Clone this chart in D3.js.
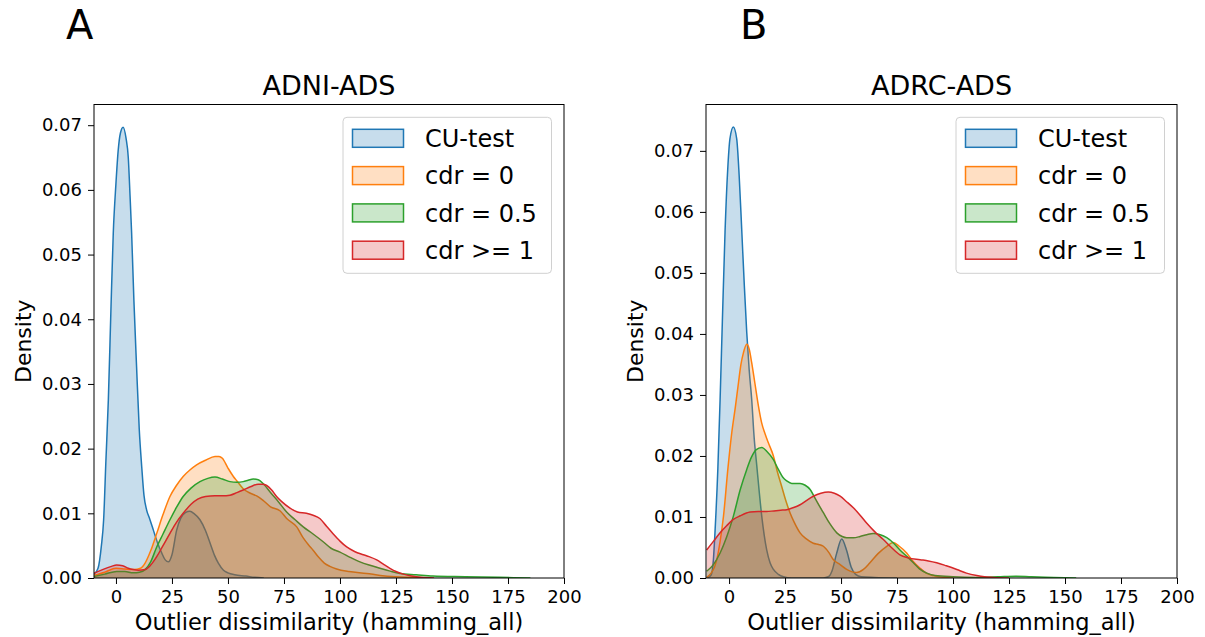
<!DOCTYPE html>
<html>
<head>
<meta charset="utf-8">
<script src="https://cdn.jsdelivr.net/npm/d3@7"></script>
<style>
  html, body { margin: 0; padding: 0; background: #fff; }
  svg { display: block; font-family: "DejaVu Sans", sans-serif; }
</style>
</head>
<body>
<svg id="chart" width="1205" height="637"></svg>
<script>
// ---------------- data ----------------
const seriesNames = ["CU-test", "cdr = 0", "cdr = 0.5", "cdr >= 1"];
const seriesColors = ["#1f77b4", "#ff7f0e", "#2ca02c", "#d62728"];
const xTickValues = [0, 25, 50, 75, 100, 125, 150, 175, 200];
const yTickValues = [0, 0.01, 0.02, 0.03, 0.04, 0.05, 0.06, 0.07];
const panelTitles = ["ADNI-ADS", "ADRC-ADS"];
const panelLetters = ["A", "B"];
const xLabel = "Outlier dissimilarity (hamming_all)";
const yLabel = "Density";

// ADNI-ADS densities  [x, density]
const adniCU = [[-10,0.0005],[-8,0.0015],[-6.5,0.005],[-5.5,0.009],[-4.5,0.018],[-3.4,0.0275],[-2.2,0.042],[-1.2,0.0533],[0,0.061],[1,0.0661],[2,0.0688],[3.2,0.0697],[4.5,0.068],[5.5,0.065],[6.3,0.059],[7,0.0533],[8,0.043],[9.2,0.0327],[10.4,0.023],[11.5,0.0172],[12.5,0.0128],[13.7,0.0105],[15,0.0092],[16.7,0.0074],[18.5,0.0055],[20.4,0.0039],[22,0.0028],[23.4,0.0025],[25,0.0036],[27.1,0.0074],[29,0.0093],[31,0.0101],[33,0.0103],[35,0.0099],[37.5,0.0090],[40,0.0073],[42,0.0054],[44,0.0035],[45.7,0.0023],[48,0.0012],[50,0.0008],[53,0.0005],[58,0.0003],[62,0.0001],[66,0]];
const adniCdr0 = [[-10,0.0004],[-5,0.0009],[0,0.0015],[4,0.0014],[8,0.0013],[11,0.0015],[13,0.0023],[15.5,0.0042],[18.2,0.0069],[21,0.0098],[24.1,0.0126],[27,0.0143],[30,0.0157],[33,0.0167],[36,0.0175],[40,0.0182],[44.2,0.0188],[46,0.0188],[47.5,0.0185],[50,0.0170],[52.4,0.0157],[54,0.0150],[56.8,0.0138],[60,0.0131],[62.8,0.0127],[66,0.0119],[69,0.0110],[73.2,0.0104],[76.2,0.0092],[80.7,0.0079],[83.6,0.0062],[86,0.0051],[88,0.0043],[90.5,0.0032],[93,0.0023],[95.5,0.0018],[98.5,0.0014],[104,0.0010],[112,0.0007],[118,0.0004],[125,0.0002],[132,0.0001],[140,0]];
const adniCdr05 = [[-10,0.0002],[-5,0.0006],[0.3,0.001],[4,0.001],[7.7,0.0008],[10.5,0.0009],[13,0.0013],[15.5,0.0025],[18.2,0.0048],[21,0.0068],[24.1,0.0090],[27,0.0109],[30,0.0126],[33.5,0.0139],[37.5,0.0149],[41,0.0154],[44.2,0.0156],[47.5,0.0153],[50.9,0.0149],[54,0.0148],[56.8,0.0149],[59,0.0151],[61.3,0.0153],[63.5,0.0152],[66,0.0145],[68.8,0.0133],[72.5,0.0118],[76.2,0.0102],[80,0.0090],[83.6,0.0079],[88,0.0068],[92.5,0.0056],[96,0.0046],[100,0.0040],[104.5,0.0032],[108.9,0.0025],[113,0.0020],[117.9,0.0015],[122,0.0011],[126.8,0.0007],[134,0.0005],[141.5,0.0003],[156,0.0002],[171,0.0001],[185,0]];
const adniCdr1 = [[-10,0.0007],[-6,0.0013],[-2,0.0018],[0.3,0.0020],[3,0.0019],[5.5,0.0015],[7.7,0.0013],[10,0.0012],[13,0.0013],[15.5,0.0020],[18.2,0.0033],[21,0.0050],[24.1,0.0069],[27,0.0086],[30,0.0100],[33.5,0.0114],[36.5,0.0122],[40,0.0126],[44.2,0.0127],[47.5,0.0127],[50.9,0.0128],[54,0.0132],[56.8,0.0136],[60,0.0141],[63.5,0.0145],[65.5,0.0145],[67.3,0.0143],[69.5,0.0136],[71.7,0.0126],[74,0.0118],[77.7,0.0108],[81,0.0102],[85,0.0100],[88,0.0097],[91,0.0092],[94,0.0080],[97,0.0068],[100,0.0057],[103,0.0048],[106.5,0.0041],[110.4,0.0036],[113,0.0033],[116.4,0.0028],[119.5,0.0021],[122.3,0.0015],[125,0.0010],[128.3,0.0006],[132,0.0003],[136,0.0001],[142,0]];

// ADRC-ADS densities  [x, density]
const adrcCU = [[-10,0],[-8,0.0005],[-7,0.003],[-6.3,0.0074],[-5,0.018],[-4,0.0293],[-3,0.042],[-1.8,0.0567],[-0.6,0.067],[0.4,0.072],[1.9,0.0739],[3.4,0.072],[4.5,0.066],[5.7,0.0567],[6.8,0.048],[7.9,0.0402],[9,0.034],[10.1,0.0293],[11.2,0.023],[12.4,0.0183],[13.5,0.014],[14.6,0.0101],[15.7,0.007],[16.8,0.0046],[18.3,0.0025],[19.8,0.0014],[22,0.0006],[24.3,0.0002],[28,0],[42,0],[44.3,0.0002],[46,0.0012],[48,0.0040],[50.3,0.0064],[52.5,0.0045],[54.5,0.0018],[56.5,0.0006],[59,0.0002],[65,0.0001],[75,0]];
const adrcCdr0 = [[-10,0.0001],[-8,0.0008],[-6.5,0.0018],[-5.5,0.003],[-4,0.006],[-2.5,0.0101],[-0.5,0.018],[1.2,0.0238],[2.8,0.028],[4.2,0.032],[5.3,0.035],[6.4,0.0369],[7.9,0.0383],[9,0.0375],[10.1,0.0353],[11.5,0.032],[13.1,0.0282],[14.5,0.0255],[16.1,0.0236],[17.5,0.0222],[19.8,0.0200],[21.5,0.0175],[23.5,0.0150],[25.5,0.0125],[27.2,0.0107],[29,0.0092],[31.7,0.0074],[34.5,0.0064],[37.6,0.0057],[40,0.0055],[42.1,0.0052],[44.5,0.0042],[46.6,0.0030],[49.6,0.0022],[52.5,0.0014],[55,0.0010],[57,0.0009],[60,0.0014],[62.9,0.0025],[66.5,0.0040],[70.4,0.0052],[73.3,0.0058],[76,0.0052],[79.3,0.0041],[82,0.0028],[85.3,0.0016],[88,0.0008],[91.2,0.0004],[96,0.0001],[100,0]];
const adrcCdr05 = [[-10,0.0011],[-7,0.0022],[-4,0.0041],[-1,0.0068],[1.9,0.0101],[5,0.0145],[7.9,0.0178],[10,0.0198],[12,0.0210],[14.6,0.0214],[17,0.0207],[19.8,0.0194],[22,0.0178],[24,0.0165],[25.8,0.0159],[28,0.0155],[30,0.0155],[31.7,0.0155],[34,0.0152],[36.2,0.0145],[38.5,0.0130],[40.5,0.0117],[42.1,0.0107],[45,0.0089],[48.1,0.0074],[50.5,0.0068],[52.5,0.0066],[55.5,0.0066],[58.5,0.0068],[61.5,0.0071],[64.4,0.0073],[67.5,0.0071],[70.4,0.0066],[73.5,0.0057],[76.3,0.0046],[79.5,0.0035],[82.3,0.0025],[85,0.0015],[88.3,0.0008],[92,0.0004],[100,0.0002],[110,0.0001],[120,0.0002],[128,0.0003],[135,0.0002],[145,0.0001],[155,0]];
const adrcCdr1 = [[-10,0.0046],[-7,0.0060],[-4,0.0074],[-1,0.0086],[1.9,0.0096],[5,0.0102],[9.4,0.0108],[13,0.0109],[16.8,0.0109],[20,0.0110],[23,0.0111],[25.8,0.0112],[28.5,0.0115],[31.7,0.0120],[34.5,0.0127],[37.6,0.0134],[41,0.0139],[44.3,0.0141],[47,0.0139],[49.6,0.0134],[52.5,0.0125],[55.5,0.0115],[58.5,0.0103],[61.4,0.0090],[65,0.0076],[68.9,0.0063],[72.5,0.0050],[76.3,0.0038],[80,0.0033],[85.3,0.0030],[89,0.0028],[92.7,0.0025],[97,0.0020],[101.7,0.0014],[106,0.0008],[110.6,0.0004],[114,0.0002],[118,0.0001],[125,0]];

const adniSeries = [adniCU, adniCdr0, adniCdr05, adniCdr1];
const adrcSeries = [adrcCU, adrcCdr0, adrcCdr05, adrcCdr1];

// ---------------- layout ----------------
const svg = d3.select("#chart");
const panels = [
  { series: adniSeries, left: 94,  right: 564,  top: 104.5, bottom: 578, xDom: [-9.8, 200],  yMax: 0.0732, title: panelTitles[0], letter: panelLetters[0], letterX: 66 },
  { series: adrcSeries, left: 706, right: 1177, top: 104.5, bottom: 578, xDom: [-10.3, 200], yMax: 0.0776, title: panelTitles[1], letter: panelLetters[1], letterX: 740 }
];

panels.forEach((p, pi) => {
  const x = d3.scaleLinear().domain(p.xDom).range([p.left, p.right]);
  const y = d3.scaleLinear().domain([0, p.yMax]).range([p.bottom, p.top]);

  const clipId = "clip" + pi;
  svg.append("clipPath").attr("id", clipId)
    .append("rect").attr("x", p.left).attr("y", p.top)
    .attr("width", p.right - p.left).attr("height", p.bottom - p.top);

  const g = svg.append("g").attr("clip-path", `url(#${clipId})`);
  const area = d3.area().x(d => x(d[0])).y0(y(0)).y1(d => y(d[1])).curve(d3.curveMonotoneX);
  const line = d3.line().x(d => x(d[0])).y(d => y(d[1])).curve(d3.curveMonotoneX);

  p.series.forEach((data, i) => {
    g.append("path").datum(data).attr("d", area)
      .attr("fill", seriesColors[i]).attr("fill-opacity", 0.25).attr("stroke", "none");
    g.append("path").datum(data).attr("d", line)
      .attr("fill", "none").attr("stroke", seriesColors[i]).attr("stroke-width", 1.5);
  });

  // axes
  const xAxis = svg.append("g").attr("transform", `translate(0,${p.bottom})`)
    .call(d3.axisBottom(x).tickValues(xTickValues).tickFormat(d3.format("d")).tickSize(6).tickPadding(6));
  const yAxis = svg.append("g").attr("transform", `translate(${p.left},0)`)
    .call(d3.axisLeft(y).tickValues(yTickValues).tickFormat(d3.format(".2f")).tickSize(6).tickPadding(6));
  [xAxis, yAxis].forEach(a => {
    a.select(".domain").remove();
    a.selectAll(".tick line").attr("stroke", "#000").attr("stroke-width", 1);
    a.selectAll(".tick text").attr("fill", "#000").style("font-size", "18px").style("font-family", "DejaVu Sans");
  });

  // spines
  svg.append("rect").attr("x", p.left).attr("y", p.top)
    .attr("width", p.right - p.left).attr("height", p.bottom - p.top)
    .attr("fill", "none").attr("stroke", "#000").attr("stroke-width", 1);

  // title, letter, labels
  svg.append("text").attr("x", (p.left + p.right) / 2).attr("y", 95)
    .attr("text-anchor", "middle").style("font-size", "27px").text(p.title);
  svg.append("text").attr("x", p.letterX).attr("y", 39)
    .style("font-size", "40px").text(p.letter);
  svg.append("text").attr("x", (p.left + p.right) / 2).attr("y", 630)
    .attr("text-anchor", "middle").style("font-size", "22.5px").text(xLabel);
  svg.append("text")
    .attr("transform", `translate(${p.left - 63},${(p.top + p.bottom) / 2}) rotate(-90)`)
    .attr("text-anchor", "middle").style("font-size", "22px").text(yLabel);

  // legend
  const lx = p.right - 221, ly = 117.3;
  const lg = svg.append("g").attr("transform", `translate(${lx},${ly})`);
  lg.append("rect").attr("x", 0).attr("y", 0).attr("width", 208.5).attr("height", 156)
    .attr("rx", 4).attr("fill", "#fff").attr("fill-opacity", 0.8)
    .attr("stroke", "#d0d0d0").attr("stroke-width", 1);
  seriesNames.forEach((name, i) => {
    const cy = 21 + i * 37.3;
    lg.append("rect").attr("x", 9.5).attr("y", cy - 9).attr("width", 51).attr("height", 18)
      .attr("fill", seriesColors[i]).attr("fill-opacity", 0.25)
      .attr("stroke", seriesColors[i]).attr("stroke-width", 1.5);
    lg.append("text").attr("x", 82).attr("y", cy).attr("dy", "0.36em")
      .style("font-size", "24px").text(name);
  });
});
</script>
</body>
</html>
